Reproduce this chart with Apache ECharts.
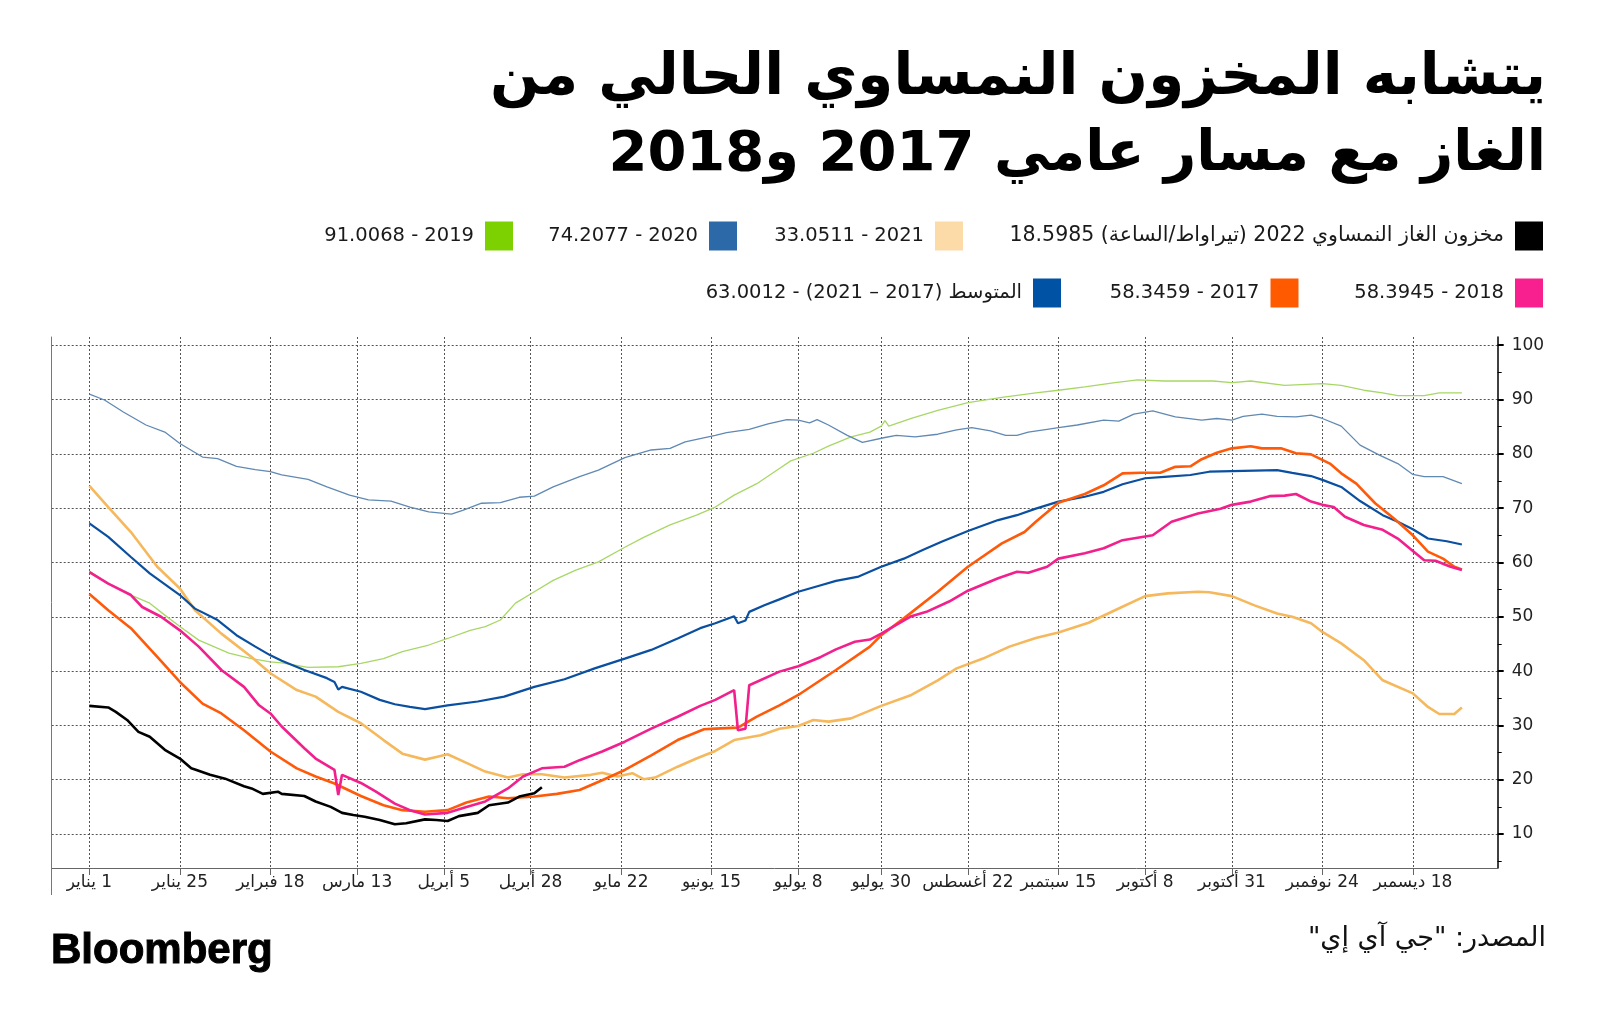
<!DOCTYPE html>
<html><head><meta charset="utf-8">
<script src="https://cdn.jsdelivr.net/npm/echarts@6/dist/echarts.min.js"></script>
<style>html,body{margin:0;padding:0;background:#fff;overflow:hidden}#c{width:1600px;height:1030px;direction:rtl}</style>
</head><body><div id="c"></div><script>
// ---- axis ticks (day of year) ----
const tickDays = [0,24,48,71,94,117,141,165,188,210,233,257,280,303,327,351];
const tickLabels = ['1 يناير','25 يناير','18 فبراير','13 مارس','5 أبريل','28 أبريل','22 مايو','15 يونيو','8 يوليو','30 يوليو','22 أغسطس','15 سبتمبر','8 أكتوبر','31 أكتوبر','24 نوفمبر','18 ديسمبر'];
const yTicks = [10,20,30,40,50,60,70,80,90,100];
const yMinorTicks = [5,15,25,35,45,55,65,75,85,95];

// ---- series names ----
const name2022 = 'مخزون الغاز النمساوي 2022 (تيراواط/الساعة) 18.5985';
const name2021 = '2021 - 33.0511';
const name2020 = '2020 - 74.2077';
const name2019 = '2019 - 91.0068';
const name2018 = '2018 - 58.3945';
const name2017 = '2017 - 58.3459';
const nameAvg = 'المتوسط (2017 – 2021) - 63.0012';

// ---- data (day of year, TWh) ----
const days2022 = [0,5,7,10,13,16,20,24,27,28,32,36,41,43,46,50,51,57,60,64,67,70,73,77,81,84,89,92,95,98,103,106,111,114,118,120];
const vals2022 = [33.6,33.3,32.5,31.0,28.8,27.9,25.5,23.9,22.1,21.9,20.9,20.2,18.8,18.4,17.4,17.8,17.4,17.0,16.0,15.0,13.9,13.5,13.2,12.6,11.8,12.0,12.7,12.6,12.4,13.3,13.9,15.3,15.8,16.9,17.5,18.6];

const days2021 = [0,5,11,18,24,28,35,43,48,55,60,66,72,78,83,89,92,95,100,105,111,115,120,126,133,136,140,144,147,150,156,161,166,171,178,183,188,192,196,202,210,218,225,230,237,244,251,257,265,272,280,286,294,297,303,309,315,319,324,327,332,338,343,351,355,358,362,364];
const vals2021 = [74.1,70.2,65.6,59.2,55.2,51.2,46.9,42.6,39.6,36.5,35.3,32.5,30.4,27.3,24.8,23.7,24.2,24.7,23.1,21.5,20.4,21.0,21.0,20.4,20.9,21.3,20.6,21.2,20.1,20.4,22.4,23.9,25.3,27.3,28.2,29.4,29.9,31.0,30.7,31.3,33.6,35.6,38.3,40.5,42.3,44.5,46.1,47.1,48.9,51.2,53.8,54.3,54.6,54.5,53.8,52.1,50.6,50.0,48.8,47.2,45.1,42.0,38.3,35.9,33.4,32.1,32.1,33.3];

const days2020 = [0,4,9,15,20,24,30,34,39,44,48,51,58,63,69,74,80,85,90,96,99,104,109,114,118,123,130,135,142,149,154,158,166,169,175,180,185,188,191,193,196,201,205,211,214,219,225,230,234,239,243,246,249,254,257,262,269,273,277,282,288,295,299,303,306,311,315,320,324,327,332,337,342,347,351,354,359,364];
const vals2020 = [91.0,89.9,87.7,85.3,84.0,81.9,79.4,79.1,77.7,77.1,76.7,76.1,75.3,73.9,72.4,71.5,71.3,70.2,69.3,68.9,69.6,70.9,71.0,72.0,72.2,73.9,75.8,77.0,79.3,80.7,81.0,82.2,83.4,83.9,84.5,85.5,86.3,86.2,85.7,86.3,85.3,83.4,82.1,83.0,83.4,83.1,83.6,84.4,84.8,84.2,83.4,83.4,84.0,84.5,84.8,85.3,86.2,86.0,87.3,87.9,86.8,86.2,86.5,86.2,86.9,87.3,86.9,86.8,87.1,86.5,85.1,81.6,79.8,78.2,76.2,75.8,75.8,74.5];

const days2019 = [0,5,11,16,20,24,29,37,43,48,51,58,66,72,78,83,90,95,101,105,109,113,118,123,129,135,142,147,154,161,166,171,177,183,186,192,196,202,207,210,211,212,218,225,233,242,251,257,264,272,278,285,298,303,308,317,327,332,338,343,347,354,358,364];
const vals2019 = [58.4,56.1,54.0,52.5,50.3,48.2,45.7,43.3,42.3,41.7,41.5,40.7,40.8,41.4,42.3,43.6,44.8,46.0,47.5,48.2,49.4,52.5,54.6,56.7,58.6,60.1,62.8,64.6,66.9,68.7,70.2,72.4,74.5,77.3,78.7,80.1,81.4,83.1,84.0,85.1,86.1,85.1,86.5,88.0,89.4,90.4,91.2,91.7,92.3,93.1,93.6,93.4,93.4,93.1,93.4,92.6,92.9,92.6,91.7,91.2,90.7,90.7,91.2,91.2];

const days2018 = [0,5,11,14,19,24,29,35,41,45,48,51,57,60,65,66,67,72,76,81,85,89,95,100,105,111,115,120,126,130,136,142,149,156,162,166,171,172,174,175,183,188,194,198,203,207,210,218,222,228,233,241,246,249,254,257,264,269,274,282,287,294,300,303,308,313,317,320,324,327,330,333,338,343,347,351,354,357,361,364];
const vals2018 = [58.2,56.1,54.0,51.8,50.0,47.5,44.5,40.2,37.1,33.7,32.2,29.8,25.8,23.9,21.8,17.2,20.9,19.4,17.8,15.6,14.4,13.6,13.9,15.0,16.0,18.4,20.6,22.1,22.4,23.6,25.2,27.0,29.4,31.6,33.6,34.7,36.5,29.1,29.4,37.4,39.9,40.9,42.6,44.0,45.4,45.8,46.9,50.1,50.9,52.8,54.8,57.1,58.3,58.1,59.2,60.7,61.7,62.6,64.1,65.0,67.5,69.0,69.9,70.6,71.2,72.2,72.3,72.6,71.2,70.6,70.2,68.4,66.9,66.0,64.4,62.1,60.4,60.3,59.2,58.6];

const days2017 = [0,5,11,18,24,30,35,41,48,55,60,65,72,78,83,89,95,100,106,111,118,124,130,136,142,149,156,163,166,172,177,183,188,198,207,210,216,225,233,242,248,251,257,264,269,274,279,284,288,292,295,299,303,308,311,316,320,324,329,332,336,341,346,351,355,359,362,364];
const vals2017 = [54.2,51.2,47.9,42.6,38.0,34.0,32.2,29.1,25.2,22.1,20.6,19.3,17.0,15.3,14.4,14.1,14.4,15.8,16.9,16.6,16.9,17.4,18.1,19.9,21.8,24.5,27.3,29.3,29.4,29.6,31.6,33.7,35.6,40.2,44.5,46.6,49.7,54.6,59.2,63.5,65.6,67.5,71.0,72.6,74.2,76.4,76.5,76.5,77.6,77.7,79.0,80.2,81.0,81.4,81.0,81.0,80.1,79.9,78.2,76.4,74.5,70.9,68.1,65.0,62.0,60.7,59.2,58.7];

const daysAvg = [0,5,11,16,24,28,34,39,44,48,51,57,63,65,66,67,72,77,81,85,89,95,103,110,118,126,134,142,149,156,162,166,171,172,174,175,179,183,188,194,198,204,210,216,221,226,233,241,246,251,257,264,269,274,280,286,292,297,303,315,319,324,327,332,337,343,347,351,355,360,364];
const valsAvg = [67.2,64.7,61.0,58.0,54.0,51.5,49.4,46.6,44.5,42.9,41.9,40.2,38.7,38.0,36.6,37.1,36.2,34.7,33.9,33.4,33.0,33.7,34.4,35.3,37.1,38.5,40.5,42.3,43.9,46.0,47.9,48.8,50.1,48.8,49.3,50.9,52.1,53.2,54.6,55.8,56.6,57.4,59.2,60.7,62.3,63.8,65.8,67.8,68.7,69.9,71.2,72.1,73.0,74.4,75.5,75.8,76.1,76.7,76.8,77.0,76.5,75.9,75.2,73.9,71.3,68.7,67.5,66.1,64.4,63.9,63.3];

// ---- build ----
const FONT = "'DejaVu Sans', sans-serif";
const pair = (d, v) => d.map((x, i) => [x, v[i]]);

function lineSeries(name, d, v, color, width, z) {
  return { name, type: 'line', data: pair(d, v), showSymbol: false, symbol: 'none',
    lineStyle: { color, width }, itemStyle: { color }, z, animation: false };
}

function legendItem(name, color, right, top, fs) {
  return { data: [{ name, itemStyle: { color } }], right, top, orient: 'horizontal',
    align: 'right', icon: 'rect', itemWidth: 28, itemHeight: 29, selectedMode: false,
    padding: 0,
    textStyle: { fontFamily: FONT, fontSize: fs || 19.5, color: '#1a1a1a', padding: [0, 6, 0, 0] } };
}

const chart = echarts.init(document.getElementById('c'), null, { renderer: 'canvas' });
chart.setOption({
  backgroundColor: '#ffffff',
  animation: false,
  title: [
    { text: 'يتشابه المخزون النمساوي الحالي من', right: 54, top: 44, padding: 0,
      textStyle: { fontFamily: FONT, fontWeight: 'bold', fontSize: 58, lineHeight: 70, color: '#000' } },
    { text: 'الغاز مع مسار عامي 2017 و2018', right: 54, top: 120, padding: 0,
      textStyle: { fontFamily: FONT, fontWeight: 'bold', fontSize: 56, lineHeight: 70, color: '#000' } },
    { text: 'المصدر: "جي آي إي"', right: 54, top: 921, padding: 0,
      textStyle: { fontFamily: FONT, fontWeight: 'normal', fontSize: 27, lineHeight: 36, color: '#111' } },
    { text: 'Bloomberg', left: 51, top: 928, padding: 0,
      textStyle: { fontFamily: "'Liberation Sans', Arial, sans-serif", fontWeight: 'bold', fontSize: 42, lineHeight: 46,
        color: '#000', textBorderColor: '#000', textBorderWidth: 1 } }
  ],
  legend: [
    legendItem(name2022, '#000000', 57, 221.5, 20.5),
    legendItem(name2021, '#FCDBA8', 637, 221.5),
    legendItem(name2020, '#2C69A8', 863, 221.5),
    legendItem(name2019, '#7ED100', 1087, 221.5),
    legendItem(name2018, '#F7208E', 57, 278.5),
    legendItem(name2017, '#FF5A00', 301.5, 278.5),
    legendItem(nameAvg, '#0052A5', 539, 278.5)
  ],
  grid: { left: 51.7, right: 102.3, top: 337, bottom: 162, containLabel: false },
  xAxis: [
    { type: 'value', min: -10, max: 373.5, position: 'bottom',
      axisLine: { show: true, onZero: false, lineStyle: { color: '#666', width: 1 } },
      axisTick: { show: true, customValues: tickDays, length: 7, lineStyle: { color: '#666', width: 1 } },
      axisLabel: { show: true, customValues: tickDays, margin: 6, fontFamily: FONT, fontSize: 17, color: '#222',
        formatter: (v) => { const i = tickDays.indexOf(Math.round(v)); return i >= 0 ? tickLabels[i] : ''; } },
      splitLine: { show: true, lineStyle: { color: '#555', width: 1, type: [2, 2] } } },
    { type: 'value', min: -10, max: 373.5, position: 'bottom',
      axisLine: { show: false, onZero: false },
      axisTick: { show: true, customValues: [-10], length: 27, lineStyle: { color: '#777', width: 1 } },
      axisLabel: { show: false }, splitLine: { show: false } }
  ],
  yAxis: [
    { type: 'value', min: 3.75, max: 101.5, position: 'right',
      axisLine: { show: true, onZero: false, lineStyle: { color: '#000', width: 1.5 } },
      axisTick: { show: true, customValues: yTicks, length: 6, lineStyle: { color: '#000', width: 2 } },
      axisLabel: { show: true, customValues: yTicks, margin: 14, fontFamily: FONT, fontSize: 17, color: '#222' },
      splitLine: { show: true, lineStyle: { color: '#555', width: 1, type: [2, 2] } } },
    { type: 'value', min: 3.75, max: 101.5, position: 'right',
      axisLine: { show: false, onZero: false },
      axisTick: { show: true, customValues: yMinorTicks, length: 4, lineStyle: { color: '#000', width: 1 } },
      axisLabel: { show: false }, splitLine: { show: false } },
    { type: 'value', min: 3.75, max: 101.5, position: 'left',
      axisLine: { show: true, onZero: false, lineStyle: { color: '#777', width: 1 } },
      axisTick: { show: false }, axisLabel: { show: false }, splitLine: { show: false } }
  ],
  series: [
    lineSeries(name2019, days2019, vals2019, '#A8D766', 1.3, 2),
    lineSeries(name2020, days2020, vals2020, '#6089B3', 1.3, 2),
    lineSeries(name2021, days2021, vals2021, '#F6B85C', 2.6, 3),
    lineSeries(nameAvg, daysAvg, valsAvg, '#0A4FA0', 2.2, 4),
    lineSeries(name2017, days2017, vals2017, '#FF5A0A', 2.6, 5),
    lineSeries(name2018, days2018, vals2018, '#F2208C', 2.6, 6),
    lineSeries(name2022, days2022, vals2022, '#000000', 2.6, 7)
  ]
});
</script></body></html>
